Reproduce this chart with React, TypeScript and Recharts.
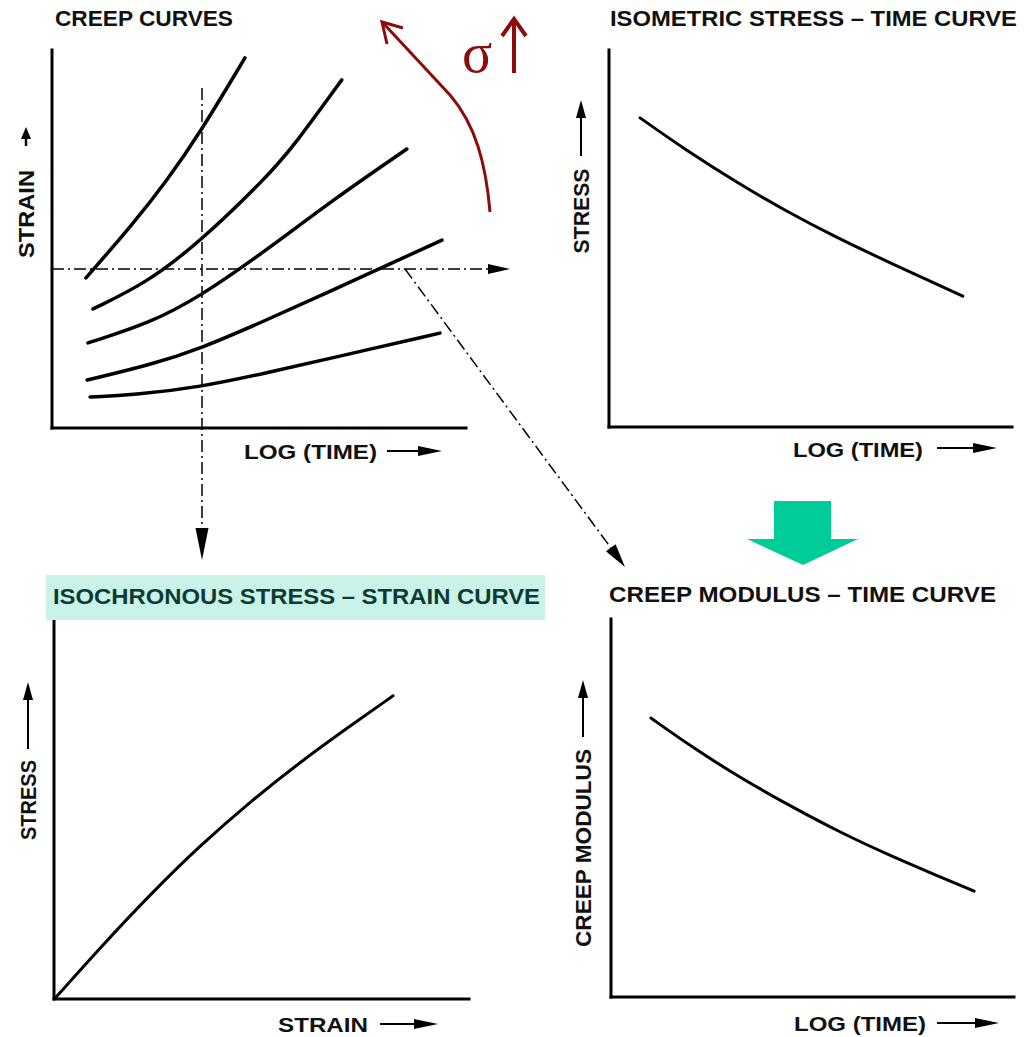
import React from "react";
import { LineChart, Line, XAxis, YAxis } from "recharts";

// ---------- data (abstract units 0..10 on both axes) ----------
const creepSigma1 = [
  { x: 0.92, y: 0.82 }, { x: 1.96, y: 0.87 }, { x: 3.57, y: 1.08 },
  { x: 5.19, y: 1.46 }, { x: 6.79, y: 1.86 }, { x: 9.37, y: 2.51 },
];
const creepSigma2 = [
  { x: 0.85, y: 1.27 }, { x: 2.37, y: 1.67 }, { x: 3.57, y: 2.09 },
  { x: 5.19, y: 2.86 }, { x: 6.79, y: 3.65 }, { x: 8.0, y: 4.26 }, { x: 9.42, y: 4.97 },
];
const creepSigma3 = [
  { x: 0.87, y: 2.25 }, { x: 2.37, y: 2.78 }, { x: 3.57, y: 3.47 },
  { x: 5.19, y: 4.71 }, { x: 6.79, y: 6.04 }, { x: 8.57, y: 7.38 },
];
const creepSigma4 = [
  { x: 0.99, y: 3.15 }, { x: 2.29, y: 3.84 }, { x: 3.57, y: 4.92 },
  { x: 5.19, y: 6.64 }, { x: 5.82, y: 7.43 }, { x: 7.0, y: 9.21 },
];
const creepSigma5 = [
  { x: 0.82, y: 3.97 }, { x: 1.96, y: 5.4 }, { x: 2.78, y: 6.55 },
  { x: 3.57, y: 7.8 }, { x: 4.66, y: 9.79 },
];
const isometricStress = [
  { x: 0.77, y: 8.2 }, { x: 1.94, y: 7.32 }, { x: 3.18, y: 6.48 },
  { x: 4.42, y: 5.71 }, { x: 5.66, y: 5.02 }, { x: 6.9, y: 4.39 }, { x: 8.78, y: 3.47 },
];
const isochronousStress = [
  { x: 0.05, y: 0.05 }, { x: 1.11, y: 1.35 }, { x: 2.31, y: 2.75 },
  { x: 3.52, y: 4.05 }, { x: 4.72, y: 5.2 }, { x: 5.93, y: 6.25 },
  { x: 7.13, y: 7.2 }, { x: 8.17, y: 8.0 },
];
const creepModulus = [
  { x: 0.99, y: 7.38 }, { x: 2.01, y: 6.61 }, { x: 3.25, y: 5.77 },
  { x: 4.49, y: 5.03 }, { x: 5.73, y: 4.33 }, { x: 6.97, y: 3.72 },
  { x: 8.14, y: 3.19 }, { x: 9.01, y: 2.8 },
];

const titles = [
  "CREEP CURVES",
  "ISOMETRIC STRESS \u2013 TIME CURVE",
  "ISOCHRONOUS STRESS \u2013 STRAIN CURVE",
  "CREEP MODULUS \u2013 TIME CURVE",
];
const axisNames = ["STRAIN", "STRESS", "LOG (TIME)", "CREEP MODULUS"];

// ---------- layout ----------
const PAD = 10;
const FONT = "'Liberation Sans', Arial, Helvetica, sans-serif";
const RED = "#8c0b0b";

type Box = { x0: number; x1: number; y0: number; y1: number };

function Panel({ box, curves, sw }: { box: Box; curves: { x: number; y: number }[][]; sw: number }) {
  const { x0, x1, y0, y1 } = box;
  const axisStyle = { stroke: "#000", strokeWidth: 3, strokeLinecap: "square" as const };
  return (
    <div style={{ position: "absolute", left: x0 - PAD, top: y0 - PAD }}>
      <LineChart
        width={x1 - x0 + 2 * PAD}
        height={y1 - y0 + 2 * PAD}
        margin={{ top: PAD, right: PAD, bottom: PAD - 1, left: PAD - 1 }}
      >
        <XAxis type="number" dataKey="x" domain={[0, 10]} ticks={[0, 10]} allowDataOverflow tick={false} tickLine={false} height={1} axisLine={axisStyle} />
        <YAxis type="number" domain={[0, 10]} ticks={[0, 10]} allowDataOverflow tick={false} tickLine={false} width={1} axisLine={axisStyle} />
        {curves.map((c, i) => (
          <Line
            key={i}
            data={c}
            dataKey="y"
            type="basis"
            dot={false}
            stroke="#000"
            strokeWidth={sw}
            strokeLinecap="round"
            isAnimationActive={false}
          />
        ))}
      </LineChart>
    </div>
  );
}

function Arrow({ x1, y1, x2, y2, head = 14, hw = 5, sw = 2, dash }: any) {
  const dx = x2 - x1, dy = y2 - y1;
  const L = Math.hypot(dx, dy);
  const ux = dx / L, uy = dy / L;
  const bx = x2 - ux * head, by = y2 - uy * head;
  const px = -uy, py = ux;
  return (
    <g>
      <line x1={x1} y1={y1} x2={bx} y2={by} stroke="#000" strokeWidth={sw} strokeDasharray={dash} />
      <polygon points={`${x2},${y2} ${bx + px * hw},${by + py * hw} ${bx - px * hw},${by - py * hw}`} fill="#000" />
    </g>
  );
}

function HText({ x, y, len, text, size = 22, fill = "#111" }: any) {
  return (
    <text x={x} y={y} textLength={len} lengthAdjust="spacingAndGlyphs" fontFamily={FONT} fontWeight="bold" fontSize={size} fill={fill}>
      {text}
    </text>
  );
}

function VText({ cx, cy, len, text, size = 22 }: any) {
  return (
    <text
      x={cx}
      y={cy + 8}
      textAnchor="middle"
      transform={`rotate(-90 ${cx} ${cy})`}
      textLength={len}
      lengthAdjust="spacingAndGlyphs"
      fontFamily={FONT}
      fontWeight="bold"
      fontSize={size}
      fill="#111"
    >
      {text}
    </text>
  );
}

function Overlay() {
  const dash = "12 4 2 4";
  return (
    <svg width={1029} height={1037} style={{ position: "absolute", left: 0, top: 0, pointerEvents: "none" }}>
      {/* titles */}
      <HText x={55} y={26} len={178} text={titles[0]} />
      <HText x={610} y={26} len={407} text={titles[1]} />
      <rect x={46} y={575} width={499} height={45} fill="#c9f3e9" />
      <HText x={53} y={604} len={487} text={titles[2]} fill="#0d3b34" />
      <HText x={609} y={602} len={387} text={titles[3]} />

      {/* axis names */}
      <VText cx={26} cy={214} len={88} text={axisNames[0]} />
      <Arrow x1={26} y1={146} x2={26} y2={127} head={12} hw={5} sw={2.5} />
      <HText x={244} y={459} len={133} text={axisNames[2]} size={21} />
      <Arrow x1={387} y1={451} x2={442} y2={451} head={24} hw={5} sw={2} />

      <VText cx={581} cy={211} len={85} text={axisNames[1]} />
      <Arrow x1={581} y1={156} x2={581} y2={100} head={18} hw={5} sw={2} />
      <HText x={793} y={457} len={130} text={axisNames[2]} size={21} />
      <Arrow x1={937} y1={448} x2={997} y2={448} head={24} hw={5} sw={2} />

      <VText cx={28} cy={800} len={80} text={axisNames[1]} />
      <Arrow x1={28} y1={749} x2={28} y2={682} head={18} hw={5} sw={2} />
      <HText x={278} y={1032} len={90} text={axisNames[0]} size={21} />
      <Arrow x1={380} y1={1024} x2={438} y2={1024} head={24} hw={5} sw={2} />

      <VText cx={583} cy={848} len={198} text={axisNames[3]} />
      <Arrow x1={583} y1={737} x2={583} y2={680} head={18} hw={5} sw={2} />
      <HText x={794} y={1031} len={132} text={axisNames[2]} size={21} />
      <Arrow x1={937} y1={1023} x2={999} y2={1023} head={24} hw={5} sw={2} />

      {/* construction lines */}
      <Arrow x1={52} y1={269} x2={510} y2={269} head={22} hw={5} sw={1.5} dash={dash} />
      <Arrow x1={202} y1={88} x2={202} y2={560} head={32} hw={6.5} sw={1.5} dash={dash} />
      <Arrow x1={405} y1={269} x2={625} y2={567} head={24} hw={6} sw={1.5} dash={dash} />

      {/* green arrow */}
      <polygon points="774,501 831,501 831,539 858,539 803,565 747,539 774,539" fill="#00cc99" />

      {/* red stress-increase arrow */}
      <path d="M 490 212 C 486 165 476 125 450 95 L 384 24" fill="none" stroke={RED} strokeWidth={3} />
      <path d="M 403 28 L 382 22 L 387 44" fill="none" stroke={RED} strokeWidth={3} />
      <text x={462} y={72} fontFamily="'Liberation Serif', 'Times New Roman', serif" fontSize={56} fill={RED}>
        σ
      </text>
      <path d="M 514 73 L 514 20 M 502 36 L 514 19 L 526 36" fill="none" stroke={RED} strokeWidth={4} />
    </svg>
  );
}

const boxTL: Box = { x0: 52, x1: 466, y0: 50, y1: 428 };
const boxTR: Box = { x0: 609, x1: 1012, y0: 50, y1: 427 };
const boxBL: Box = { x0: 54, x1: 469, y0: 620, y1: 999 };
const boxBR: Box = { x0: 611, x1: 1014, y0: 619, y1: 997 };

export default function App() {
  return (
    <div style={{ position: "absolute", left: 0, top: 0, width: 1029, height: 1037, background: "#fff", overflow: "hidden" }}>
      <Panel box={boxTL} curves={[creepSigma1, creepSigma2, creepSigma3, creepSigma4, creepSigma5]} sw={3.5} />
      <Panel box={boxTR} curves={[isometricStress]} sw={3} />
      <Panel box={boxBL} curves={[isochronousStress]} sw={3} />
      <Panel box={boxBR} curves={[creepModulus]} sw={3} />
      <Overlay />
    </div>
  );
}
